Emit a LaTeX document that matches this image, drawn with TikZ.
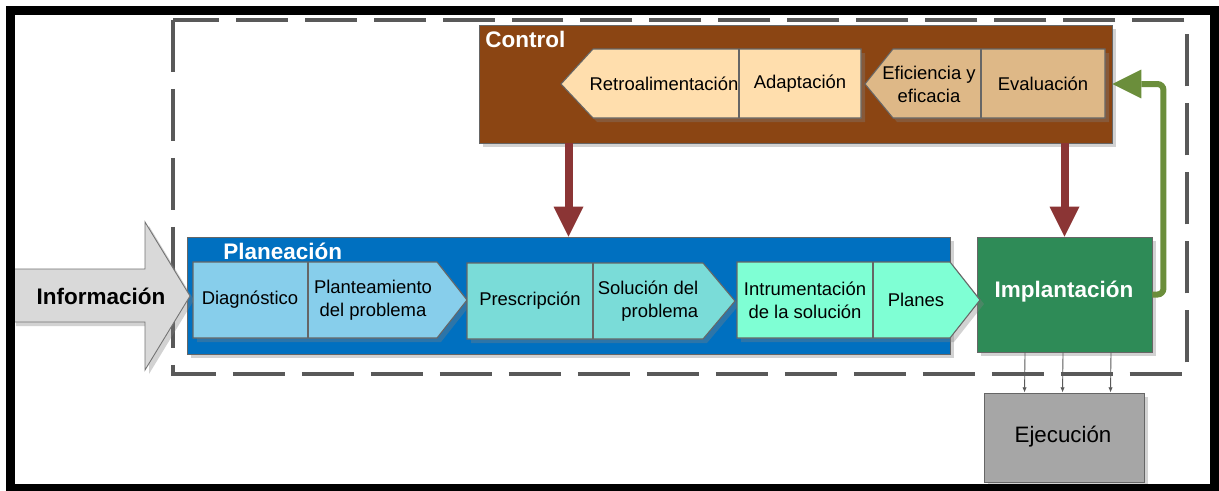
\documentclass[tikz,border=0pt]{standalone}
\usepackage{fontspec}
\setmainfont{Liberation Sans}
\usetikzlibrary{arrows.meta,shadows,fit}

\definecolor{ctlbrown}{HTML}{8B4513}
\definecolor{ctllight}{HTML}{FFDEAD}
\definecolor{ctltan}{HTML}{DEB887}
\definecolor{planblue}{HTML}{0070C0}
\definecolor{stepsky}{HTML}{87CEEB}
\definecolor{stepturq}{HTML}{7ADCD8}
\definecolor{stepaqua}{HTML}{7FFFD4}
\definecolor{implgreen}{HTML}{2E8B57}
\definecolor{loopgreen}{HTML}{6B8E3B}
\definecolor{downred}{HTML}{8B3535}
\definecolor{ejegray}{HTML}{A6A6A6}
\definecolor{infogray}{HTML}{D9D9D9}
\definecolor{dashgray}{HTML}{595959}

\begin{document}
\begin{tikzpicture}[x=0.02cm, y=-0.02cm,
  softshadow/.style={drop shadow={opacity=0.35, shadow xshift=0.08cm, shadow yshift=-0.08cm}},
  panel/.style={draw=black!60, line width=0.5pt, inner sep=0pt, softshadow},
  chevron/.style={draw=black!60, line width=0.6pt, softshadow},
  steptext/.style={font=\fontsize{10.5}{13}\selectfont, align=center, inner sep=0pt},
  paneltitle/.style={font=\fontsize{12.8}{15}\selectfont\bfseries, text=white, inner sep=0pt},
  downarrow/.style={draw=downred, line width=0.16cm, -{Triangle[length=0.6cm, width=0.6cm, line width=0pt]}},
  looparrow/.style={draw=loopgreen, line width=0.12cm, rounded corners=0.12cm, -{Triangle[length=0.58cm, width=0.58cm, line width=0pt]}},
  feedarrow/.style={draw=dashgray, line width=0.5pt, -{Latex[length=3pt, width=2.5pt]}},
]
  \fill[white] (0,0) rectangle (1219,490);
  \useasboundingbox (0,0) rectangle (1219,490);

  % Dashed frame
  \draw[dashgray, line width=0.08cm, dash pattern=on 1.04cm off 0.34cm] (173,20) rectangle (1187,374);

  % Control
  \node[panel, fill=ctlbrown, fit={(479,25) (1112,143)}] (control) {};
  \node[paneltitle, anchor=base west] (ctltitle) at (485,47) {Control};
  \filldraw[chevron, fill=ctllight] (561,84) -- (593,49) -- (861,49) -- (861,118) -- (593,118) -- cycle;
  \draw[black!60, line width=0.6pt] (739,49) -- (739,118);
  \filldraw[chevron, fill=ctltan] (865,84) -- (893,49) -- (1105,49) -- (1105,118) -- (893,118) -- cycle;
  \draw[black!60, line width=0.6pt] (981,49) -- (981,118);
  \node[steptext] (retro) at (664,84) {Retroalimentación};
  \node[steptext] (adapt) at (800,84) {Adaptación};
  \node[steptext] (efic) at (929,84) {Eficiencia y\\eficacia};
  \node[steptext] (eval) at (1043,84) {Evaluación};

  % Planeacion
  \node[panel, fill=planblue, fit={(187,237) (950,354)}] (planeacion) {};
  \node[paneltitle, anchor=base west] (plantitle) at (223,259) {Planeación};
  \filldraw[chevron, fill=stepsky] (193,262) -- (437,262) -- (467,300) -- (437,338) -- (193,338) -- cycle;
  \draw[black!60, line width=0.6pt] (308,262) -- (308,338);
  \filldraw[chevron, fill=stepturq] (467,263) -- (703,263) -- (735,301) -- (703,339) -- (467,339) -- cycle;
  \draw[black!60, line width=0.6pt] (593,263) -- (593,339);
  \node[steptext] (diag) at (250,300) {Diagnóstico};
  \node[steptext] (plant) at (373,300) {Planteamiento\\del problema};
  \node[steptext] (presc) at (530,301) {Prescripción};
  \node[steptext, align=right] (soluc) at (648,301) {Solución del\\problema};

  % Implantacion and Ejecucion
  \node[panel, fill=implgreen, fit={(977,237) (1152,352)}] (implantacion) {};
  \node[paneltitle] (impltext) at (1064,292) {Implantación};
  \node[panel, fill=ejegray, fit={(984,393) (1144,482)}] (ejecucion) {};
  \node[font=\fontsize{12.7}{15}\selectfont, inner sep=0pt] (ejetext) at (1063,437) {Ejecución};

  \filldraw[chevron, fill=stepaqua] (737,262) -- (950,262) -- (980,300) -- (950,338) -- (737,338) -- cycle;
  \draw[black!60, line width=0.6pt] (873,262) -- (873,338);
  \node[steptext] (instr) at (805,300) {Intrumentación\\de la solución};
  \node[steptext] (planes) at (916,300) {Planes};

  % Informacion
  \filldraw[fill=infogray, draw=black!55, line width=0.5pt, softshadow] (12,269) -- (145,269) -- (145,222) -- (190,296) -- (145,370) -- (145,322) -- (12,322) -- cycle;
  \node[paneltitle, text=black] (info) at (101,296) {Información};

  % Arrows
  \draw[downarrow] (control.south -| planeacion.north) -- (planeacion.north);
  \draw[downarrow] (control.south -| implantacion.north) -- (implantacion.north);
  \draw[looparrow] (implantacion.east) -- ++(11,0) |- (control.east);
  \foreach \dx in {-0.79cm,-0.03cm,0.93cm}
    \draw[feedarrow] ([xshift=\dx]implantacion.south) -- ([xshift=\dx]ejecucion.north);

  % Outer frame
  \draw[line width=0.18cm] (10.5,10.5) rectangle (1214.5,488);
\end{tikzpicture}
\end{document}
